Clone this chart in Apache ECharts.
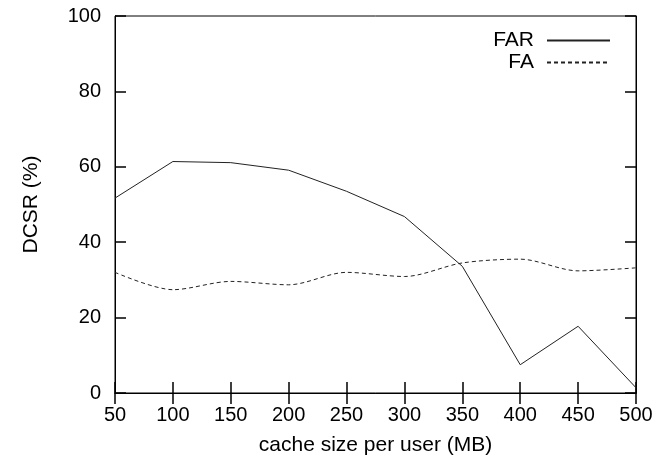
<!DOCTYPE html>
<html>
<head>
<meta charset="utf-8">
<script src="https://cdn.jsdelivr.net/npm/echarts@6/dist/echarts.min.js"></script>
<style>html,body{margin:0;padding:0;background:#fff}#c{width:671px;height:461px}</style>
</head>
<body>
<div id="c"></div>
<script>
var cacheSizes = [50, 100, 150, 200, 250, 300, 350, 400, 450, 500];
var farValues = [51.7, 61.4, 61.1, 59.1, 53.5, 46.8, 33.6, 7.5, 17.7, 1.4];
var faValues = [32.0, 27.4, 29.6, 28.7, 32.0, 30.9, 34.5, 35.5, 32.4, 33.2];
var seriesNames = ['FAR', 'FA'];
var xTitle = 'cache size per user (MB)';
var yTitle = 'DCSR (%)';

function pairs(xs, ys) { return xs.map(function (x, i) { return [x, ys[i]]; }); }

var font = 'Liberation Sans, Arial, sans-serif';
var chart = echarts.init(document.getElementById('c'));
var axisCommon = {
  axisLine: { show: true, lineStyle: { color: '#000', width: 1 } },
  axisTick: { show: true, inside: true, length: 11, lineStyle: { color: '#000', width: 1.5 } },
  splitLine: { show: false }
};
function legendAt(name, top) {
  return { data: [name], right: 60, top: top, align: 'right', itemWidth: 63, itemHeight: 14, padding: 0,
    itemStyle: { opacity: 0 },
    textStyle: { fontFamily: font, fontSize: 21, color: '#000', padding: [0, 8, 0, 0] } };
}
chart.setOption({
  animation: false,
  backgroundColor: '#fff',
  grid: { left: 115, right: 35, top: 16, bottom: 67, show: true, borderColor: '#000', borderWidth: 1 },
  legend: [legendAt(seriesNames[0], 30), legendAt(seriesNames[1], 52)],
  xAxis: [
    Object.assign({
      type: 'value', min: 50, max: 500, interval: 50, position: 'bottom',
      name: xTitle, nameLocation: 'middle', nameGap: 42,
      nameTextStyle: { fontFamily: font, fontSize: 21, color: '#000' },
      axisLabel: { fontFamily: font, fontSize: 20, color: '#000', margin: 12 }
    }, axisCommon),
    Object.assign({
      type: 'value', min: 50, max: 500, interval: 50, position: 'top',
      axisLabel: { show: false }
    }, axisCommon)
  ],
  yAxis: [
    Object.assign({
      type: 'value', min: 0, max: 100, interval: 20, position: 'left',
      name: yTitle, nameLocation: 'middle', nameGap: 73,
      nameTextStyle: { fontFamily: font, fontSize: 21, color: '#000' },
      axisLabel: { fontFamily: font, fontSize: 20, color: '#000', margin: 14 }
    }, axisCommon),
    Object.assign({
      type: 'value', min: 0, max: 100, interval: 20, position: 'right',
      axisLabel: { show: false }
    }, axisCommon)
  ],
  series: [
    { name: seriesNames[0], type: 'line', data: pairs(cacheSizes, farValues), symbol: 'none',
      lineStyle: { color: '#222', width: 1 }, itemStyle: { color: '#222' } },
    { name: seriesNames[1], type: 'line', data: pairs(cacheSizes, faValues), symbol: 'none', smooth: 0.3,
      lineStyle: { color: '#222', width: 1, type: [4, 3] }, itemStyle: { color: '#222' } }
  ]
});
</script>
</body>
</html>
